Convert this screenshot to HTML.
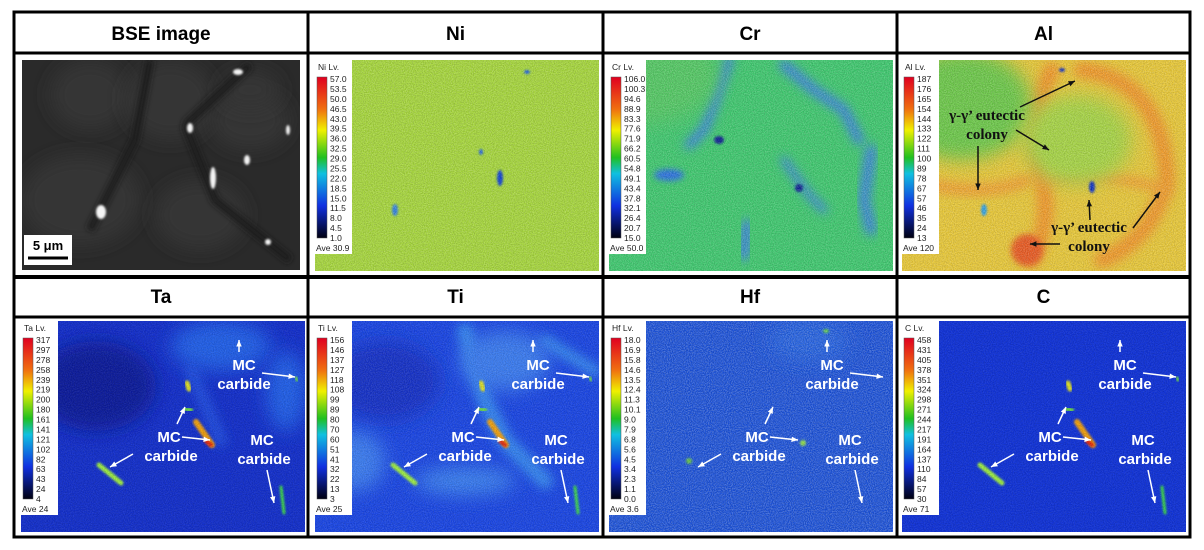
<!DOCTYPE html>
<html><head><meta charset="utf-8">
<style>
html,body{margin:0;padding:0;background:#fff;}
svg{display:block;}
.hdr{font-family:"Liberation Sans",sans-serif;font-weight:bold;font-size:19px;text-anchor:middle;}
.cb{font-family:"Liberation Sans",sans-serif;font-size:8.5px;fill:#222;}
.mc{font-family:"Liberation Sans",sans-serif;font-weight:bold;font-size:15px;fill:#fff;text-anchor:middle;}
.eu{font-family:"Liberation Serif",serif;font-weight:bold;font-size:15px;fill:#111;text-anchor:middle;}
</style></head>
<body>
<svg id="fig" width="1204" height="550" viewBox="0 0 1204 550" xmlns="http://www.w3.org/2000/svg">
<defs id="defs">
<filter id="spk" x="0" y="0" width="100%" height="100%">
<feTurbulence type="fractalNoise" baseFrequency="0.95" numOctaves="1" seed="3"/>
<feColorMatrix type="matrix" values="0 0 0 0 1  0 0 0 0 1  0 0 0 0 1  0 0 0 -3 1.9"/>
</filter>
<filter id="spkd" x="0" y="0" width="100%" height="100%">
<feTurbulence type="fractalNoise" baseFrequency="0.9" numOctaves="1" seed="7"/>
<feColorMatrix type="matrix" values="0 0 0 0 0  0 0 0 0 0  0 0 0 0 0  0 0 0 -3 1.9"/>
</filter>
<filter id="blur3" x="-100%" y="-100%" width="300%" height="300%"><feGaussianBlur stdDeviation="3"/></filter>
<filter id="blur5" x="-100%" y="-100%" width="300%" height="300%"><feGaussianBlur stdDeviation="5"/></filter>
<filter id="blur8" x="-100%" y="-100%" width="300%" height="300%"><feGaussianBlur stdDeviation="9"/></filter>
<filter id="blur1" x="-100%" y="-100%" width="300%" height="300%"><feGaussianBlur stdDeviation="1"/></filter>
<linearGradient id="cbg" x1="0" y1="0" x2="0" y2="1">
<stop offset="0" stop-color="#e00020"/><stop offset="0.2" stop-color="#f07010"/>
<stop offset="0.33" stop-color="#f0f000"/><stop offset="0.5" stop-color="#20c020"/>
<stop offset="0.6" stop-color="#10c0e0"/><stop offset="0.8" stop-color="#1030e0"/>
<stop offset="1" stop-color="#000010"/></linearGradient>
</defs>
<g id="grid"></g>
<g id="panels"></g>
</svg>
<script>
const NS='http://www.w3.org/2000/svg';
const fig=document.getElementById('panels');
const grid=document.getElementById('grid');
const defs=document.getElementById('defs');
function mk(tag,attrs,parent,text){const e=document.createElementNS(NS,tag);for(const k in attrs)e.setAttribute(k,attrs[k]);if(text!==undefined)e.textContent=text;(parent||fig).appendChild(e);return e;}

const titles=['BSE image','Ni','Cr','Al','Ta','Ti','Hf','C'];
const colX=[14,308,603,897,1190];
mk('rect',{x:14,y:12,width:1176,height:525,fill:'none',stroke:'#000','stroke-width':3},grid);
colX.slice(1,4).forEach(x=>mk('line',{x1:x,y1:12,x2:x,y2:537,stroke:'#000','stroke-width':3},grid));
[53,277,317].forEach(y=>mk('line',{x1:14,y1:y,x2:1190,y2:y,stroke:'#000','stroke-width':y===277?4:3},grid));
titles.forEach((t,i)=>{const c=i%4,r=Math.floor(i/4);
const el=mk('text',{x:(colX[c]+colX[c+1])/2,y:r?303:40,class:'hdr'},grid,t);

});

const niTicks=['57.0','53.5','50.0','46.5','43.0','39.5','36.0','32.5','29.0','25.5','22.0','18.5','15.0','11.5','8.0','4.5','1.0'];
const crTicks=['106.0','100.3','94.6','88.9','83.3','77.6','71.9','66.2','60.5','54.8','49.1','43.4','37.8','32.1','26.4','20.7','15.0'];
const alTicks=['187','176','165','154','144','133','122','111','100','89','78','67','57','46','35','24','13'];
const taTicks=['317','297','278','258','239','219','200','180','161','141','121','102','82','63','43','24','4'];
const tiTicks=['156','146','137','127','118','108','99','89','80','70','60','51','41','32','22','13','3'];
const hfTicks=['18.0','16.9','15.8','14.6','13.5','12.4','11.3','10.1','9.0','7.9','6.8','5.6','4.5','3.4','2.3','1.1','0.0'];
const cTicks=['458','431','405','378','351','324','298','271','244','217','191','164','137','110','84','57','30'];
const aves=['Ave 30.9','Ave 50.0','Ave 120','Ave 24','Ave 25','Ave 3.6','Ave 71'];

const PW=284,PH=211;
const maps=[
 {name:'ni',lbl:'Ni Lv.',x:315,y:60,base:'#a6d63c',ticks:niTicks,ave:aves[0],spo:0.2},
 {name:'cr',lbl:'Cr Lv.',x:609,y:60,base:'#3ec86e',ticks:crTicks,ave:aves[1],spo:0.2},
 {name:'al',lbl:'Al Lv.',x:902,y:60,base:'#e8c838',ticks:alTicks,ave:aves[2],spo:0.2},
 {name:'ta',lbl:'Ta Lv.',x:21,y:321,base:'#1430cc',ticks:taTicks,ave:aves[3],spo:0.08},
 {name:'ti',lbl:'Ti Lv.',x:315,y:321,base:'#1a46e4',ticks:tiTicks,ave:aves[4],spo:0.12},
 {name:'hf',lbl:'Hf Lv.',x:609,y:321,base:'#1a50d8',ticks:hfTicks,ave:aves[5],spo:0.25},
 {name:'c',lbl:'C Lv.',x:902,y:321,base:'#1234d8',ticks:cTicks,ave:aves[6],spo:0.08},
];

function clip(id,x,y,w,h){const c=mk('clipPath',{id},defs);mk('rect',{x,y,width:w,height:h},c);return 'url(#'+id+')';}

const bse=mk('g',{'clip-path':clip('clip-bse',22,60,278,210)});


mk('rect',{x:22,y:60,width:278,height:210,fill:'#2a2a2a'},bse);
[[90,95,40,35],[170,100,45,40],[250,120,40,30],[80,200,60,45],[200,215,45,35],[250,90,30,20]].forEach(b=>mk('ellipse',{cx:b[0],cy:b[1],rx:b[2],ry:b[3],fill:'#363636',filter:'url(#blur8)'},bse));
mk('path',{d:'M150 60 L135 140 L90 230 M185 125 L250 65 M185 125 L215 200 L290 260',stroke:'#1e1e1e','stroke-width':8,fill:'none',filter:'url(#blur3)'},bse);
[[238,72,5,3],[213,178,3,11],[101,212,5,7],[190,128,3,5],[288,130,2,5],[247,160,3,5],[268,242,3,3]].forEach(b=>mk('ellipse',{cx:b[0],cy:b[1],rx:b[2],ry:b[3],fill:'#f4f4f4',filter:'url(#blur1)'},bse));
mk('rect',{x:24,y:235,width:48,height:30,fill:'#fff'},bse);
mk('text',{x:48,y:250,class:'hdr',style:'font-size:13px'},bse,'5 μm');
mk('line',{x1:28,y1:258,x2:68,y2:258,stroke:'#000','stroke-width':3},bse);

const feats={
 ni:[[185,118,3,8,'#1040d0',1],[166,92,2,3,'#2060e0',1],[80,150,3,6,'#3080e0',1],[212,12,3,2,'#2060e0',1]],
 cr:[[190,128,4,4,'#102090',1],[110,80,5,4,'#102090',1],[60,115,15,6,'#2a70e0',3],[30,15,80,50,'#52c864',8]],
 al:[[60,45,70,55,'#6cc848',8],[175,80,55,45,'#a6d444',8],[125,190,16,16,'#e85a20',3],[190,127,3,6,'#1030c0',1],[82,150,3,6,'#30a0e0',1],[160,10,3,2,'#1030c0',1]],
 ta:[[75,65,60,45,'#0a1a9c',8],[200,25,50,25,'#2460e8',8],[265,70,20,40,'#2460e8',8]],
 ti:[[70,60,55,40,'#1232c8',8],[190,40,45,30,'#3a7cf0',8],[150,160,50,14,'#3a80f0',8],[40,140,30,30,'#3a7cf0',8]],
 hf:[[200,20,40,20,'#2060e0',8],[194,122,3,3,'#90e040',1],[217,10,3,2,'#60d040',1],[80,140,3,3,'#60c040',1]],
 c:[],
};
const nets={
 cr:[['M120 0 L105 45 L95 70 L80 85','#3a80e0',9],['M175 5 L205 30 L235 50 L250 80','#3a80e0',10],['M175 100 L200 135 L215 150','#3a80e0',7],['M262 90 L255 140 L262 170','#3a80e0',11],['M138 165 L135 195','#3a80e0',11]],
 al:[['M150 10 Q125 60 140 120 Q150 160 130 200','#f0962c',16],['M180 10 Q260 20 265 120 Q250 180 200 200','#f0962c',16],['M10 120 Q80 140 125 120','#f0a030',12],['M140 120 Q200 110 265 130','#f0a030',10]],
 ti:[['M150 10 L170 80 L190 120 L230 160','#3486f0',16],['M230 20 L280 50','#3486f0',12]],
 ta:[['M170 50 L200 120','#2050e0',12]],
 hf:[],ni:[],c:[],
};
const carb=[[78,144,100,162,'#a0f040',5],[175,101,191,124,'#f0a010',6],[185,120,190,124,'#e02010',4],[166,62,168,68,'#e0e020',5],[164,88,170,89,'#70e040',4],[216,12,220,12,'#f03020',5],[275,57,276,59,'#70e040',3],[260,166,263,192,'#40e040',3],[240,197,244,197,'#70e040',4]];
const carbMaps={ta:carb,ti:carb,c:carb};

maps.forEach(m=>{
 const g=mk('g',{'clip-path':clip('clip-'+m.name,m.x,m.y,PW,PH)});
 
 
 mk('rect',{x:m.x,y:m.y,width:PW,height:PH,fill:m.base},g);
 (nets[m.name]||[]).forEach(n=>mk('path',{d:n[0],transform:`translate(${m.x},${m.y})`,stroke:n[1],'stroke-width':n[2],fill:'none','stroke-linecap':'round',filter:'url(#blur5)'},g));
 (feats[m.name]||[]).forEach(f=>mk('ellipse',{cx:m.x+f[0],cy:m.y+f[1],rx:f[2],ry:f[3],fill:f[4],filter:'url(#blur'+f[5]+')'},g));
 (carbMaps[m.name]||[]).forEach(c=>mk('line',{x1:m.x+c[0],y1:m.y+c[1],x2:m.x+c[2],y2:m.y+c[3],stroke:c[4],'stroke-width':c[5],'stroke-linecap':'round',filter:'url(#blur1)'},g));
 mk('rect',{x:m.x,y:m.y,width:PW,height:PH,fill:'#fff',style:'opacity:'+m.spo,filter:'url(#spk)'},g);
 mk('rect',{x:m.x,y:m.y,width:PW,height:PH,fill:'#000',style:'opacity:0.12',filter:'url(#spkd)'},g);
 const cb=mk('g',{},g);
 
 
 mk('rect',{x:m.x,y:m.y,width:37,height:194,fill:'#fff'},cb);
 mk('text',{x:m.x+3,y:m.y+10,class:'cb'},cb,m.lbl);
 const top=m.y+17,bot=m.y+178;
 mk('rect',{x:m.x+2,y:top,width:10,height:bot-top,fill:'url(#cbg)',stroke:'#555','stroke-width':0.5},cb);
 m.ticks.forEach((t,i)=>{const yy=top+2+i*(bot-top-2)/(m.ticks.length-1);mk('text',{x:m.x+15,y:yy+3,class:'cb'},cb,t);});
 mk('text',{x:m.x+1,y:m.y+191,class:'cb'},cb,m.ave);
});

function arrow(g,x1,y1,x2,y2,col){mk('line',{x1,y1,x2,y2,stroke:col,'stroke-width':1.5},g);
 const a=Math.atan2(y2-y1,x2-x1),L=7;
 mk('polygon',{points:`${x2},${y2} ${x2-L*Math.cos(a-0.4)},${y2-L*Math.sin(a-0.4)} ${x2-L*Math.cos(a+0.4)},${y2-L*Math.sin(a+0.4)}`,fill:col},g);}
[0,294,588,881].forEach((dx,i)=>{
 const g=mk('g',{});
 
 
 [[244,370,'MC'],[244,389,'carbide'],[169,442,'MC'],[171,461,'carbide'],[262,445,'MC'],[264,464,'carbide']].forEach(t=>mk('text',{x:t[0]+dx,y:t[1],class:'mc'},g,t[2]));
 arrow(g,239+dx,352,239+dx,340,'#fff');
 arrow(g,262+dx,373,295+dx,377,'#fff');
 arrow(g,177+dx,424,185+dx,407,'#fff');
 arrow(g,182+dx,437,210+dx,440,'#fff');
 arrow(g,133+dx,454,110+dx,467,'#fff');
 arrow(g,267+dx,470,274+dx,503,'#fff');
});

const ag=mk('g',{});


[[987,120,"γ-γ’ eutectic"],[987,139,'colony'],[1089,232,"γ-γ’ eutectic"],[1089,251,'colony']].forEach(t=>mk('text',{x:t[0],y:t[1],class:'eu'},ag,t[2]));
arrow(ag,1020,107,1075,81,'#111');
arrow(ag,1016,130,1049,150,'#111');
arrow(ag,978,146,978,190,'#111');
arrow(ag,1090,220,1089,200,'#111');
arrow(ag,1060,244,1030,244,'#111');
arrow(ag,1133,228,1160,192,'#111');
</script>
</body></html>
